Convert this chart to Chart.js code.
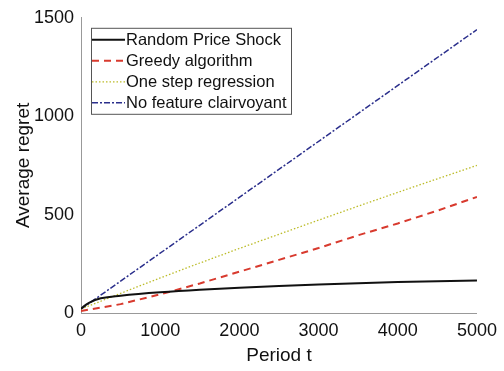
<!DOCTYPE html>
<html>
<head>
<meta charset="utf-8">
<script src="https://cdn.jsdelivr.net/npm/chart.js@4.4.0/dist/chart.umd.min.js"></script>
<style>
  html, body { margin: 0; padding: 0; background: #fff; }
  #wrap { width: 504px; height: 371px; }
</style>
</head>
<body>
<div id="wrap"><canvas id="c"></canvas></div>
<script>
// values
var randomT = [0, 100, 250, 500, 1000, 1500, 2000, 3000, 4000, 5000];
var randomY = [22, 52, 75, 88, 105, 118, 128, 145, 157, 165];

var periodT = [0, 500, 1000, 1500, 2000, 2500, 3000, 3500, 4000, 4500, 5000];
var greedyY = [10, 45, 95, 150, 210, 270, 330, 395, 455, 520, 590];
var oneStepY = [20, 100, 178, 254, 328, 400, 472, 543, 613, 682, 750];

var clairT = [0, 5000];
var clairY = [20, 1440];

var xTicks = [0, 1000, 2000, 3000, 4000, 5000];
var yTicks = [0, 500, 1000, 1500];

function pts(xs, ys) {
  return xs.map(function (x, i) { return {x: x, y: ys[i]}; });
}

var font = "'Liberation Sans', Arial, sans-serif";

// legend box drawn inside the plot, MATLAB style
var boxLegend = {
  id: 'boxLegend',
  afterDraw: function (chart) {
    var ctx = chart.ctx;
    var a = chart.chartArea;
    var x0 = a.left + 10, y0 = a.top + 10, w = 200, rowH = 21;
    var ds = chart.data.datasets;
    ctx.save();
    ctx.fillStyle = '#fff';
    ctx.fillRect(x0, y0, w, rowH * ds.length + 2);
    ctx.strokeStyle = '#555';
    ctx.lineWidth = 1;
    ctx.strokeRect(x0 + 0.5, y0 + 0.5, w, rowH * ds.length + 2);
    ctx.font = '16.5px ' + font;
    ctx.textBaseline = 'middle';
    for (var i = 0; i < ds.length; i++) {
      var y = y0 + 12 + i * rowH;
      ctx.beginPath();
      ctx.setLineDash(ds[i].borderDash || []);
      ctx.strokeStyle = ds[i].borderColor;
      ctx.lineWidth = ds[i].borderWidth;
      ctx.moveTo(x0 + 1, y);
      ctx.lineTo(x0 + 34, y);
      ctx.stroke();
      ctx.setLineDash([]);
      ctx.fillStyle = '#111';
      ctx.fillText(ds[i].label, x0 + 35, y + 1);
    }
    ctx.restore();
  }
};

new Chart(document.getElementById('c'), {
  type: 'line',
  data: {
    datasets: [
      { label: 'Random Price Shock', data: pts(randomT, randomY), borderColor: '#111', borderWidth: 2, tension: 0.4 },
      { label: 'Greedy algorithm', data: pts(periodT, greedyY), borderColor: '#d83a2e', borderWidth: 2, borderDash: [7, 5] },
      { label: 'One step regression', data: pts(periodT, oneStepY), borderColor: '#bcbc2a', borderWidth: 1.3, borderDash: [1.5, 2] },
      { label: 'No feature clairvoyant', data: pts(clairT, clairY), borderColor: '#2b2f8c', borderWidth: 1.5, borderDash: [6, 2, 2, 2] }
    ]
  },
  options: {
    responsive: true,
    maintainAspectRatio: false,
    animation: false,
    elements: { point: { radius: 0 }, line: { tension: 0, fill: false } },
    layout: { padding: { top: 5, right: 22, left: 0, bottom: 0 } },
    plugins: { legend: { display: false }, tooltip: { enabled: false } },
    scales: {
      x: {
        type: 'linear', min: 0, max: 5000,
        afterBuildTicks: function (s) { s.ticks = xTicks.map(function (v) { return {value: v}; }); },
        afterFit: function (s) { s.height = 58; },
        grid: { drawOnChartArea: false, drawTicks: false },
        border: { color: '#999' },
        ticks: { color: '#111', font: { family: font, size: 18 }, padding: 7, callback: function (v) { return String(v); } },
        title: { display: true, text: 'Period t', color: '#111', font: { family: font, size: 19 }, padding: { top: 0 } }
      },
      y: {
        min: 0, max: 1500,
        afterBuildTicks: function (s) { s.ticks = yTicks.map(function (v) { return {value: v}; }); },
        afterFit: function (s) { s.width = 81; },
        grid: { drawOnChartArea: false, drawTicks: false },
        border: { color: '#999' },
        ticks: { color: '#111', font: { family: font, size: 18 }, padding: 7, callback: function (v) { return String(v); } },
        title: { display: true, text: 'Average regret', color: '#111', font: { family: font, size: 19 }, padding: { top: 12, bottom: 4 } }
      }
    }
  },
  plugins: [boxLegend]
});
</script>
</body>
</html>
